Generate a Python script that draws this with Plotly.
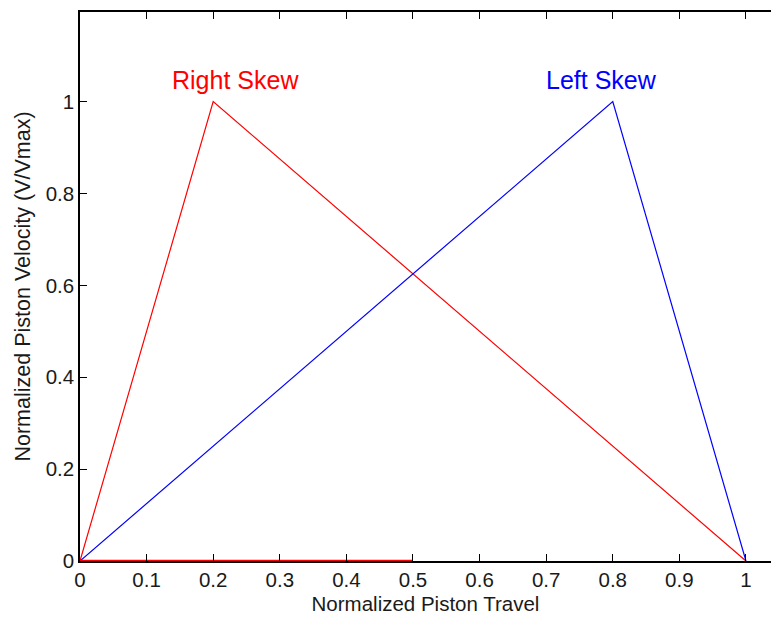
import plotly.graph_objects as go

# Normalized piston travel vs normalized velocity profiles
right_skew_x = [0.0, 0.2, 1.0]
right_skew_y = [0.0, 1.0, 0.0]
left_skew_x = [0.0, 0.8, 1.0]
left_skew_y = [0.0, 1.0, 0.0]
baseline_x = [0.0, 0.5]
baseline_y = [0.0, 0.0]

x_ticks = [0, 0.1, 0.2, 0.3, 0.4, 0.5, 0.6, 0.7, 0.8, 0.9, 1]
y_ticks = [0, 0.2, 0.4, 0.6, 0.8, 1]

FONT = "Liberation Sans, Arial, sans-serif"

fig = go.Figure()
fig.add_trace(go.Scatter(x=right_skew_x, y=right_skew_y, mode="lines",
                         line=dict(color="#ff0000", width=1.2), cliponaxis=False))
fig.add_trace(go.Scatter(x=left_skew_x, y=left_skew_y, mode="lines",
                         line=dict(color="#0000ff", width=1.2), cliponaxis=False))
fig.add_trace(go.Scatter(x=baseline_x, y=baseline_y, mode="lines",
                         line=dict(color="#ff0000", width=2.5), cliponaxis=False))

fig.add_annotation(x=0.233, y=1.047, text="Right Skew", showarrow=False,
                   font=dict(family=FONT, size=25, color="#ff0000"))
fig.add_annotation(x=0.783, y=1.047, text="Left Skew", showarrow=False,
                   font=dict(family=FONT, size=25, color="#0000ff"))

fig.update_layout(
    width=771, height=617,
    margin=dict(l=80, r=0, t=12, b=56),
    paper_bgcolor="white", plot_bgcolor="white",
    showlegend=False,
    font=dict(family=FONT, size=20.5, color="#1a1a1a"),
    xaxis=dict(range=[0, 1.0376], tickvals=x_ticks, ticks="inside", ticklen=7,
               tickcolor="black", showline=True, linecolor="black", linewidth=1.5,
               mirror="ticks", showgrid=False, zeroline=False,
               title=dict(text="Normalized Piston Travel", standoff=6,
                          font=dict(size=20.5))),
    yaxis=dict(range=[0, 1.195], tickvals=y_ticks, ticks="inside", ticklen=7,
               tickcolor="black", showline=True, linecolor="black", linewidth=1.5,
               mirror=False, showgrid=False, zeroline=False,
               title=dict(text="Normalized Piston Velocity (V/Vmax)", standoff=9,
                          font=dict(size=21.5))),
)

fig.write_html("out.html")
